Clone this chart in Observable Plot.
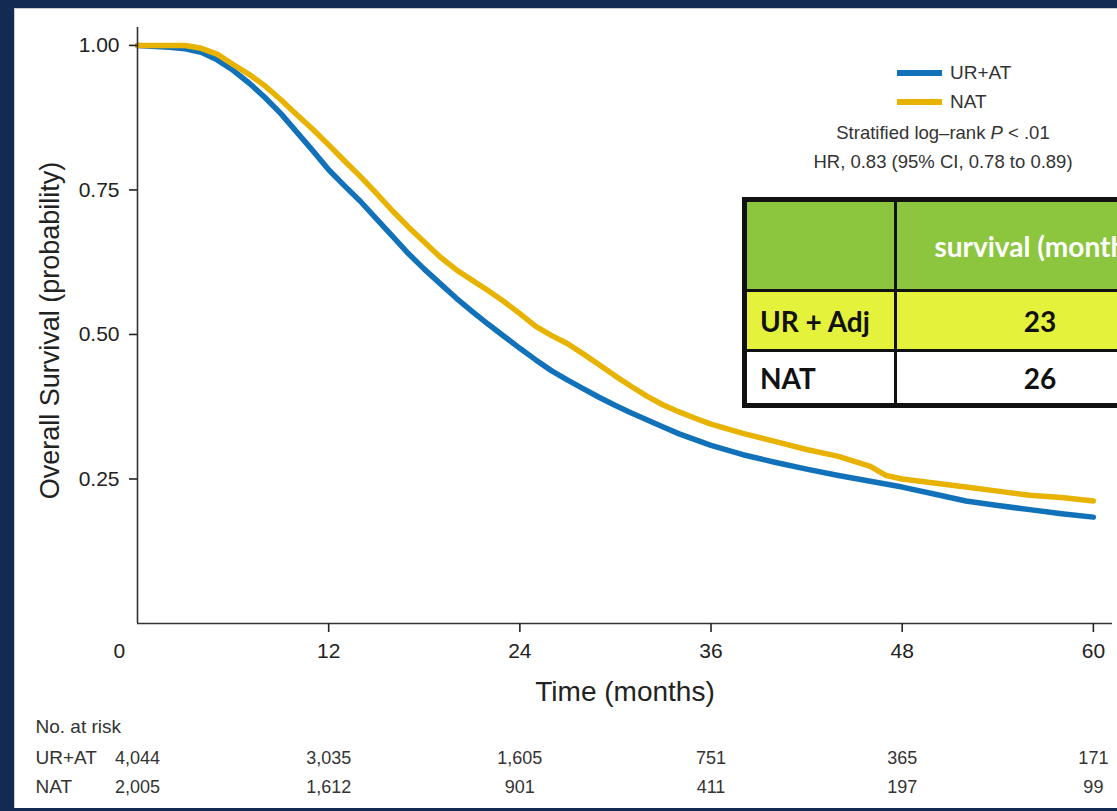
<!DOCTYPE html>
<html>
<head>
<meta charset="utf-8">
<script src="https://cdn.jsdelivr.net/npm/d3@7"></script>
<script src="https://cdn.jsdelivr.net/npm/@observablehq/plot@0.6"></script>
<style>
  html, body { margin: 0; padding: 0; }
  body { width: 1117px; height: 811px; overflow: hidden; position: relative; background: #132b52; font-family: "Liberation Sans", Arial, sans-serif; }
  #panel { position: absolute; left: 14px; top: 8px; width: 1103px; height: 800px; background: #fff; border-left: 1px solid #c9ccd2; border-top: 1px solid #c9ccd2; box-sizing: border-box; }
  #chart { position: absolute; left: 0; top: 0; }
  #legend { position: absolute; left: 0; top: 0; }
  .sw { position: absolute; height: 6px; width: 45px; left: 897px; }
  .lt { position: absolute; left: 950px; font-size: 19px; color: #333; line-height: 20px; }
  #stats { position: absolute; left: 743px; top: 118px; width: 400px; text-align: center; font-size: 18.5px; line-height: 29px; color: #333; }
  #tbl { position: absolute; left: 742px; top: 197px; width: 375px; height: 211px; background: #111; font-family: Lato, "Open Sans", sans-serif; font-weight: 700; font-size: 28px; overflow: hidden; }
  .cell { position: absolute; display: flex; align-items: center; box-sizing: border-box; overflow: hidden; }
</style>
</head>
<body>
<div id="panel"></div>
<div id="chart"></div>
<div id="legend"></div>
<div id="stats"></div>
<div id="tbl"></div>
<script>
// ---- data ----
const seriesNames = ["UR+AT", "NAT"];
const seriesColors = ["#1172ba", "#e8b300"];

const timesUR = [0,2,3,4,5,6,7,8,9,10,11,12,13,14,15,16,17,18,19,20,21,22,23,24,25,26,27,28,29,30,31,32,33,34,35,36,38,40,42,44,46,48,50,52,54,56,58,60];
const survUR  = [1,0.997,0.994,0.988,0.975,0.957,0.935,0.91,0.882,0.85,0.818,0.785,0.757,0.73,0.70,0.67,0.64,0.613,0.588,0.563,0.54,0.518,0.497,0.476,0.456,0.437,0.421,0.406,0.391,0.377,0.364,0.352,0.34,0.328,0.318,0.308,0.292,0.279,0.267,0.256,0.246,0.236,0.224,0.212,0.204,0.197,0.19,0.184];

const timesNAT = [0,3,4,5,6,7,8,9,10,11,12,13,14,15,16,17,18,19,20,21,22,23,24,25,26,27,28,29,30,31,32,33,34,35,36,38,40,42,44,46,47,48,50,52,54,56,58,60];
const survNAT  = [1,1,0.995,0.985,0.967,0.95,0.93,0.906,0.88,0.855,0.828,0.8,0.773,0.744,0.714,0.686,0.66,0.634,0.612,0.594,0.576,0.557,0.536,0.514,0.498,0.484,0.466,0.447,0.428,0.41,0.393,0.378,0.366,0.355,0.345,0.329,0.315,0.301,0.289,0.272,0.256,0.25,0.243,0.236,0.229,0.222,0.218,0.212];

const xTicks = [12, 24, 36, 48, 60];
const yTicks = [0.25, 0.5, 0.75, 1.0];

const riskTimes = [0, 12, 24, 36, 48, 60];
const riskUR  = [4044, 3035, 1605, 751, 365, 171];
const riskNAT = [2005, 1612, 901, 411, 197, 99];

const statLines = ["Stratified log\u2013rank <i>P</i> &lt; .01", "HR, 0.83 (95% CI, 0.78 to 0.89)"];

const tableHeader = ["", "survival (months)"];
const tableLabels = ["UR + Adj", "NAT"];
const tableMedians = [23, 26];

// ---- build ----
const urData = timesUR.map((t, i) => ({t, s: survUR[i]}));
const natData = timesNAT.map((t, i) => ({t, s: survNAT[i]}));
const fmt = d3.format(",");
const sans = "'Liberation Sans', Arial, sans-serif";

const plot = Plot.plot({
  width: 1117, height: 811,
  marginLeft: 137, marginRight: 5, marginTop: 27, marginBottom: 188,
  style: {background: "transparent", fontFamily: sans, color: "#222"},
  x: {domain: [0, 61.2]},
  y: {domain: [0, 1.031]},
  marks: [
    Plot.line(urData, {x: "t", y: "s", stroke: seriesColors[0], strokeWidth: 5.5, strokeLinejoin: "round"}),
    Plot.line(natData, {x: "t", y: "s", stroke: seriesColors[1], strokeWidth: 5.5, strokeLinejoin: "round"}),
    Plot.ruleX([0], {stroke: "#333", strokeWidth: 1.6}),
    Plot.ruleY([0], {stroke: "#333", strokeWidth: 1.6}),
    Plot.axisY({ticks: yTicks, tickFormat: d3.format(".2f"), tickSize: 8, tickPadding: 10, label: null, fontSize: 21, color: "#222", strokeWidth: 1.6}),
    Plot.axisX({ticks: xTicks, tickSize: 9, tickPadding: 11, label: null, fontSize: 21, color: "#222", strokeWidth: 1.6}),
    Plot.text(["0"], {frameAnchor: "bottom-left", dx: -24, dy: 20, lineAnchor: "top", fontSize: 21, fill: "#222"}),
    Plot.text(["Time (months)"], {frameAnchor: "bottom", dy: 77, fontSize: 28, fill: "#222"}),
    Plot.text(["Overall Survival (probability)"], {frameAnchor: "left", textAnchor: "middle", dx: -87, dy: 5, rotate: -90, fontSize: 27, fill: "#222"}),
    // risk table
    Plot.text(["No. at risk"], {frameAnchor: "bottom-left", dx: -102, dy: 109, textAnchor: "start", lineAnchor: "bottom", fontSize: 19, fill: "#333"}),
    Plot.text([seriesNames[0]], {frameAnchor: "bottom-left", dx: -102, dy: 140, textAnchor: "start", lineAnchor: "bottom", fontSize: 19, fill: "#333"}),
    Plot.text([seriesNames[1]], {frameAnchor: "bottom-left", dx: -102, dy: 169, textAnchor: "start", lineAnchor: "bottom", fontSize: 19, fill: "#333"}),
    Plot.text(riskTimes, {x: d => d, text: (d, i) => fmt(riskUR[i]), frameAnchor: "bottom", dy: 140, lineAnchor: "bottom", fontSize: 18, fill: "#333"}),
    Plot.text(riskTimes, {x: d => d, text: (d, i) => fmt(riskNAT[i]), frameAnchor: "bottom", dy: 169, lineAnchor: "bottom", fontSize: 18, fill: "#333"})
  ]
});
document.getElementById("chart").appendChild(plot);

// legend
const leg = document.getElementById("legend");
seriesNames.forEach((name, i) => {
  const cy = 73 + i * 29;
  const sw = document.createElement("div");
  sw.className = "sw";
  sw.style.top = (cy - 3) + "px";
  sw.style.background = seriesColors[i];
  leg.appendChild(sw);
  const lt = document.createElement("div");
  lt.className = "lt";
  lt.style.top = (cy - 10) + "px";
  lt.textContent = name;
  leg.appendChild(lt);
});
document.getElementById("stats").innerHTML = statLines.join("<br>");

// table
const tbl = document.getElementById("tbl");
const rowsY = [[5, 87], [95, 57], [155, 51]];
const rowBg = ["#8cc63f", "#e4f23b", "#ffffff"];
const rows = [tableHeader, ...tableLabels.map((l, i) => [l, String(tableMedians[i])])];
rows.forEach((r, ri) => {
  const [top, h] = rowsY[ri];
  const c1 = document.createElement("div");
  c1.className = "cell";
  Object.assign(c1.style, {left: "5px", top: top + "px", width: "147px", height: h + "px", background: rowBg[ri], paddingLeft: "13px", color: "#111"});
  c1.textContent = r[0];
  tbl.appendChild(c1);
  const c2 = document.createElement("div");
  c2.className = "cell";
  Object.assign(c2.style, {left: "155px", top: top + "px", width: "286px", height: h + "px", background: rowBg[ri], justifyContent: "center", color: ri === 0 ? "#fff" : "#111", whiteSpace: "nowrap"});
  c2.textContent = r[1];
  tbl.appendChild(c2);
});
</script>
</body>
</html>
